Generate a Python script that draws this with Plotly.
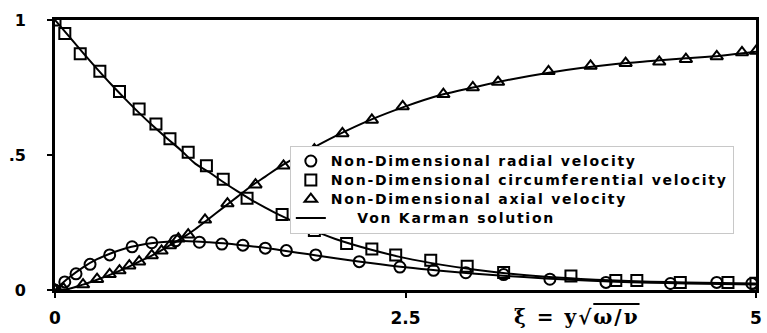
import plotly.graph_objects as go

# Von Karman similarity solution (smooth curves)
vk_xi = [0, 0.1, 0.2, 0.3, 0.4, 0.5, 0.6, 0.7, 0.8, 0.9, 1.0, 1.1, 1.2, 1.3, 1.4,
         1.5, 1.6, 1.8, 2.0, 2.25, 2.5, 2.75, 3.0, 3.25, 3.5, 3.75, 4.0, 4.25,
         4.5, 4.75, 5.0]
vk_radial = [0, 0.046, 0.084, 0.114, 0.136, 0.154, 0.166, 0.174, 0.179, 0.181,
             0.180, 0.177, 0.173, 0.168, 0.162, 0.156, 0.148, 0.133, 0.118, 0.100,
             0.084, 0.071, 0.060, 0.051, 0.043, 0.036, 0.031, 0.027, 0.024,
             0.022, 0.020]
vk_circ = [1.0, 0.939, 0.878, 0.819, 0.762, 0.708, 0.656, 0.607, 0.561, 0.517,
           0.468, 0.436, 0.400, 0.366, 0.334, 0.305, 0.278, 0.230, 0.189, 0.150,
           0.118, 0.094, 0.075, 0.060, 0.049, 0.041, 0.035, 0.031, 0.028,
           0.026, 0.024]
vk_axial = [0, 0.005, 0.02, 0.038, 0.058, 0.08, 0.105, 0.13, 0.16, 0.19, 0.225,
            0.265, 0.305, 0.345, 0.385, 0.42, 0.455, 0.515, 0.57, 0.63, 0.68,
            0.722, 0.752, 0.78, 0.803, 0.822, 0.837, 0.848, 0.858, 0.868, 0.882]

# Computed points
rad_xi = [0, 0.07, 0.15, 0.25, 0.39, 0.55, 0.69, 0.86, 1.03, 1.19, 1.34, 1.5,
          1.65, 1.86, 2.17, 2.46, 2.70, 2.93, 3.2, 3.53, 3.93, 4.39, 4.72, 4.97]
rad_v = [0, 0.03, 0.06, 0.095, 0.13, 0.16, 0.175, 0.182, 0.177, 0.17, 0.166,
         0.155, 0.146, 0.13, 0.105, 0.085, 0.073, 0.064, 0.057, 0.04, 0.028,
         0.024, 0.028, 0.024]

circ_xi = [0, 0.07, 0.18, 0.32, 0.46, 0.6, 0.72, 0.82, 0.95, 1.08, 1.2, 1.37,
           1.62, 1.85, 2.08, 2.26, 2.43, 2.68, 2.94, 3.2, 3.68, 4.0, 4.15,
           4.46, 4.8, 5.0]
circ_v = [1.0, 0.95, 0.875, 0.81, 0.735, 0.67, 0.615, 0.56, 0.51, 0.46, 0.41,
          0.34, 0.28, 0.22, 0.172, 0.152, 0.13, 0.11, 0.088, 0.065, 0.052,
          0.035, 0.035, 0.028, 0.028, 0.025]

ax_xi = [0, 0.06, 0.2, 0.3, 0.39, 0.46, 0.53, 0.6, 0.69, 0.76, 0.82, 0.88, 0.95,
         1.07, 1.23, 1.43, 1.63, 1.85, 2.05, 2.26, 2.48, 2.77, 2.98, 3.16, 3.52,
         3.82, 4.07, 4.31, 4.5, 4.72, 4.9, 5.0]
ax_v = [0, 0.005, 0.02, 0.04, 0.058, 0.072, 0.09, 0.105, 0.128, 0.145, 0.165,
        0.19, 0.205, 0.26, 0.32, 0.39, 0.46, 0.52, 0.58, 0.63, 0.68, 0.725,
        0.75, 0.77, 0.81, 0.83, 0.84, 0.845, 0.855, 0.865, 0.88, 0.885]

x_ticks = [0, 2.5, 5]
x_ticktext = ["0", "2.5", "5"]
y_ticks = [0, 0.5, 1]
y_ticktext = ["0", ".5", "1"]

FONT = "DejaVu Sans"
mk_line = dict(color="black", width=2)


def wide(label, indent=0):
    """Legend label with slightly spread, larger lettering."""
    pad = "&nbsp;" * indent
    return f"<span style='font-size:14px;letter-spacing:1.75px'>{pad}{label}</span>"


fig = go.Figure()
fig.add_trace(go.Scatter(x=rad_xi, y=rad_v, mode="markers",
                         name=wide("Non-Dimensional radial velocity"),
                         marker=dict(symbol="circle-open", size=11, line=mk_line, color="black")))
fig.add_trace(go.Scatter(x=circ_xi, y=circ_v, mode="markers",
                         name=wide("Non-Dimensional circumferential velocity"),
                         marker=dict(symbol="square-open", size=11, line=mk_line, color="black")))
fig.add_trace(go.Scatter(x=ax_xi, y=ax_v, mode="markers",
                         name=wide("Non-Dimensional axial velocity"),
                         marker=dict(symbol="triangle-up-open", size=11, line=mk_line, color="black")))
fig.add_trace(go.Scatter(x=vk_xi, y=vk_radial, mode="lines",
                         name=wide("Von Karman solution", indent=4),
                         line=dict(color="black", width=2, shape="spline")))
fig.add_trace(go.Scatter(x=vk_xi, y=vk_circ, mode="lines", showlegend=False,
                         line=dict(color="black", width=2, shape="spline")))
fig.add_trace(go.Scatter(x=vk_xi, y=vk_axial, mode="lines", showlegend=False,
                         line=dict(color="black", width=2, shape="spline")))

fig.update_layout(
    width=767, height=333,
    margin=dict(l=55, r=5, t=20, b=40),
    paper_bgcolor="white", plot_bgcolor="white",
    font=dict(family=FONT, color="black"),
    showlegend=True,
    legend=dict(x=0.335, y=0.535, xanchor="left", yanchor="top",
                bgcolor="white", bordercolor="#c8c8c8", borderwidth=1,
                font=dict(family=FONT, size=12, color="black", weight="bold"),
                tracegroupgap=0, itemwidth=30),
    xaxis=dict(range=[0, 5], tickvals=x_ticks, ticktext=x_ticktext,
               showgrid=False, zeroline=False, showline=True, linecolor="black",
               linewidth=2.8, mirror=True, ticks="outside", ticklen=5, tickwidth=2,
               tickcolor="black", ticklabelstandoff=6,
               tickfont=dict(family=FONT, size=17, weight="bold")),
    yaxis=dict(range=[0, 1], tickvals=y_ticks, ticktext=y_ticktext,
               showgrid=False, zeroline=False, showline=True, linecolor="black",
               linewidth=2.8, mirror=True, ticks="outside", ticklen=5, tickwidth=2,
               tickcolor="black", ticklabelstandoff=18,
               tickfont=dict(family=FONT, size=16, weight="bold")),
    annotations=[dict(
        text="<span style='letter-spacing:2px'>ξ = y√<span style='text-decoration:overline'>ω/ν</span></span>",
        xref="paper", yref="paper", x=0.745, y=-0.1, xanchor="center", yanchor="middle",
        showarrow=False,
        font=dict(family="DejaVu Serif", size=20, color="black", weight="bold"))],
)

fig.write_html("out.html")
